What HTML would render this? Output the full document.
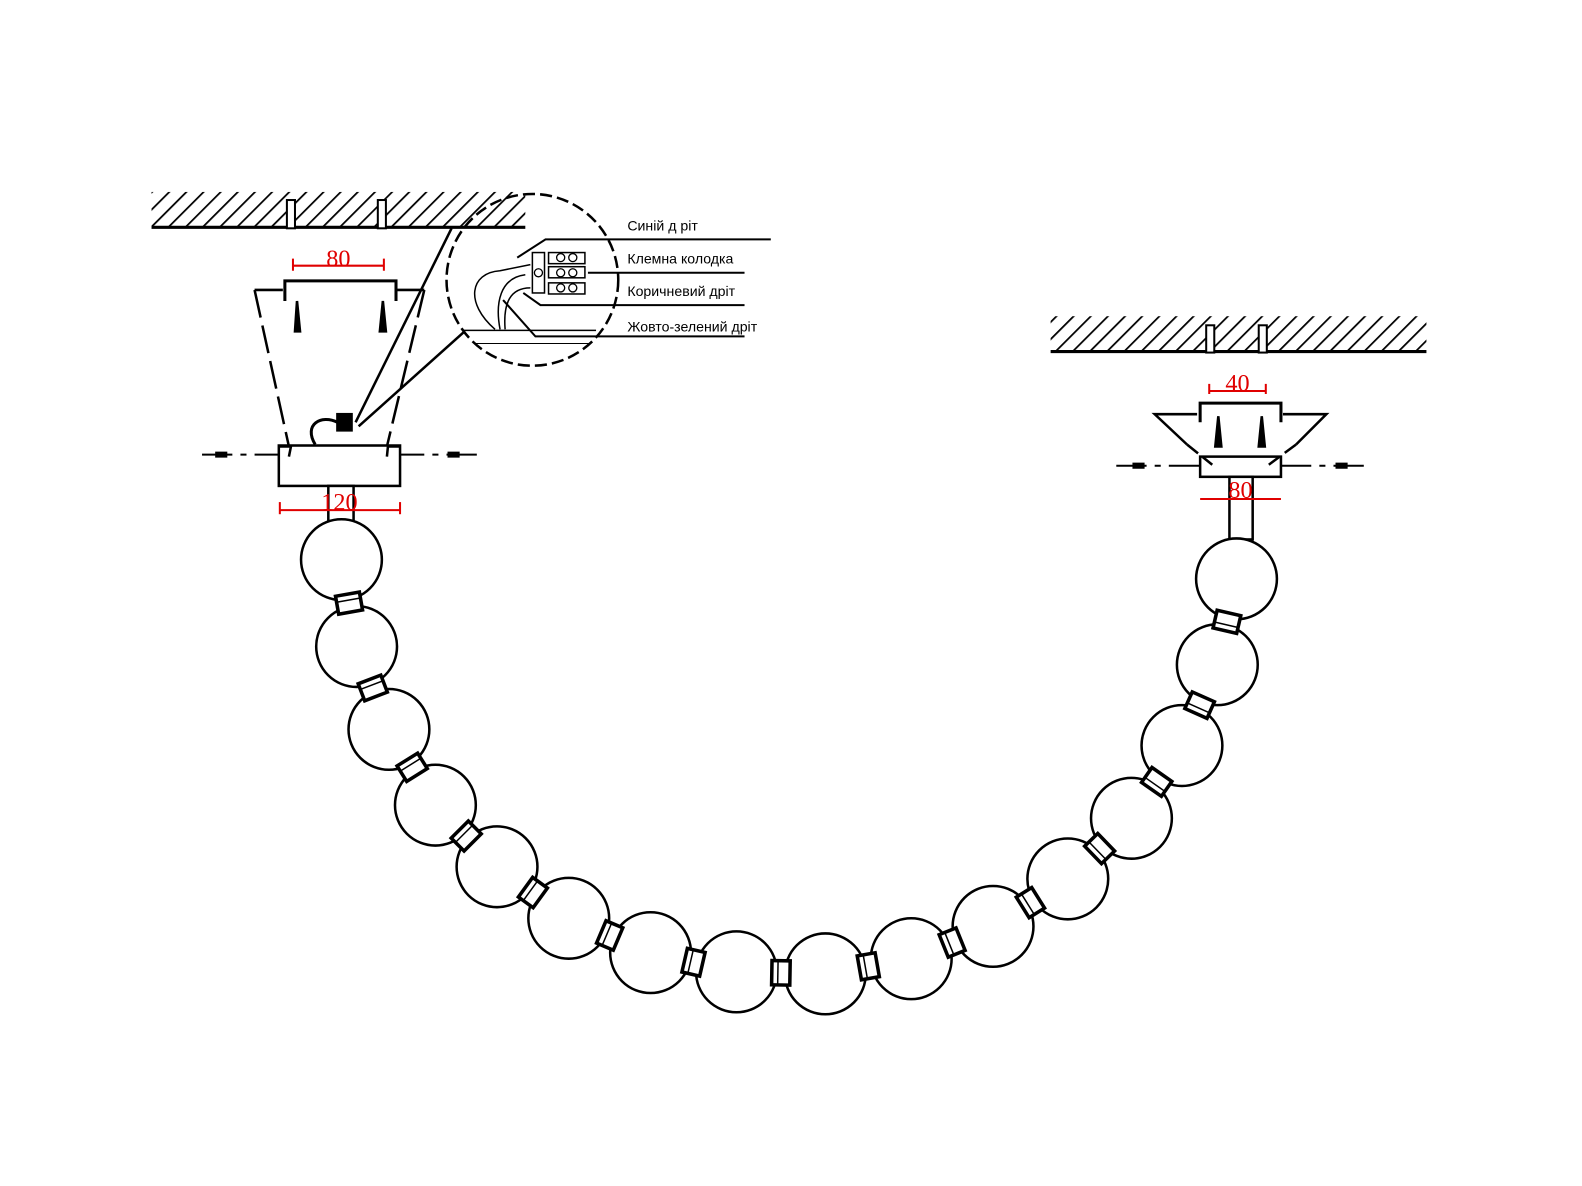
<!DOCTYPE html>
<html><head><meta charset="utf-8"><style>html,body{margin:0;padding:0;background:#fff}svg{display:block}</style></head><body>
<svg width="1582" height="1186" viewBox="0 0 1566 1174" xmlns="http://www.w3.org/2000/svg" font-family="Liberation Sans, sans-serif">
<defs>
<pattern id="h" width="12" height="12" patternUnits="userSpaceOnUse" patternTransform="rotate(45)"><line x1="0" y1="0" x2="0" y2="12" stroke="#000" stroke-width="3.5"/></pattern>
</defs>
<g fill="none" stroke="#000" stroke-width="2.5">
<rect x="150" y="190" width="370" height="34" fill="url(#h)" stroke="none"/>
<line x1="150" y1="225" x2="520" y2="225" stroke-width="3"/>
<rect x="284" y="198" width="8" height="28" fill="#fff" stroke-width="2"/>
<rect x="374" y="198" width="8" height="28" fill="#fff" stroke-width="2"/>
<polyline points="280,287 252,287"/>
<polyline points="392,287 420,287"/>
<line x1="252" y1="287" x2="286" y2="442" stroke-dasharray="28,8"/>
<line x1="420" y1="287" x2="383" y2="442" stroke-dasharray="28,8"/>
<polyline points="282,298 282,278 392,278 392,298" stroke-width="3"/>
<rect x="276" y="441" width="120" height="40"/>
<polyline points="276,442 288,442 286,452"/><polyline points="396,442 384,442 383,452"/>
<line x1="200" y1="450" x2="276" y2="450" stroke-dasharray="30,8,6,8" stroke-width="2"/>
<line x1="472" y1="450" x2="396" y2="450" stroke-dasharray="30,8,6,8" stroke-width="2"/>
<rect x="325" y="481" width="25" height="38" fill="#fff"/>
<path d="M292,328 L294,298 L297,328 Z" fill="#000"/>
<path d="M376,328 L379,298 L382,328 Z" fill="#000"/>
<path d="M213,447 h12 v6 h-12z M443,447 h12 v6 h-12z" fill="#000" stroke="none"/>
<rect x="334" y="410" width="14" height="16" fill="#000"/>
<path d="M334,418 C318,410 300,420 312,440" stroke-width="3"/>
<line x1="352" y1="418" x2="447" y2="226"/>
<line x1="355" y1="422" x2="460" y2="328"/>
<circle cx="527" cy="277" r="85" stroke-dasharray="12,5" fill="none"/>
<line x1="458" y1="327" x2="590" y2="327" stroke-width="1.5"/>
<line x1="470" y1="340" x2="585" y2="340" stroke-width="1"/>
<rect x="527" y="250" width="12" height="40" stroke-width="1.5"/>
<rect x="543" y="250" width="36" height="11" stroke-width="1.5"/>
<rect x="543" y="264" width="36" height="11" stroke-width="1.5"/>
<rect x="543" y="280" width="36" height="11" stroke-width="1.5"/>
<g stroke-width="1.3"><circle cx="555" cy="255" r="4"/><circle cx="567" cy="255" r="4"/><circle cx="555" cy="270" r="4"/><circle cx="567" cy="270" r="4"/><circle cx="555" cy="285" r="4"/><circle cx="567" cy="285" r="4"/><circle cx="533" cy="270" r="4"/></g>
<path d="M490,326 C460,300 465,270 495,268 L525,262 M495,326 C490,300 495,275 520,272 M500,326 C498,300 505,285 525,285" stroke-width="1.5"/>
<polyline points="763,237 540,237 512,255" stroke-width="2"/>
<line x1="737" y1="270" x2="582" y2="270" stroke-width="2"/>
<polyline points="737,302 535,302 518,290" stroke-width="2"/>
<polyline points="737,333 530,333 498,297" stroke-width="2"/>
<rect x="1040" y="313" width="372" height="34" fill="url(#h)" stroke="none"/>
<line x1="1040" y1="348" x2="1412" y2="348" stroke-width="3"/>
<rect x="1194" y="322" width="8" height="27" fill="#fff" stroke-width="2"/>
<rect x="1246" y="322" width="8" height="27" fill="#fff" stroke-width="2"/>
<polyline points="1185,410 1143,410 1175,440"/>
<polyline points="1270,410 1313,410 1283,440"/>
<line x1="1175" y1="440" x2="1200" y2="460" stroke-dasharray="14,6"/>
<line x1="1283" y1="440" x2="1256" y2="460" stroke-dasharray="14,6"/>
<polyline points="1188,418 1188,399 1268,399 1268,418" stroke-width="3"/>
<rect x="1188" y="452" width="80" height="20"/>
<line x1="1105" y1="461" x2="1188" y2="461" stroke-dasharray="30,8,6,8" stroke-width="2"/>
<line x1="1350" y1="461" x2="1268" y2="461" stroke-dasharray="30,8,6,8" stroke-width="2"/>
<path d="M1121,458 h12 v6 h-12z M1322,458 h12 v6 h-12z" fill="#000" stroke="none"/>
<path d="M1203,442 L1206,412 L1209,442 Z" fill="#000"/>
<path d="M1246,442 L1249,412 L1252,442 Z" fill="#000"/>
<rect x="1217" y="472" width="23" height="62" fill="#fff"/>
<g fill="#fff">
<circle cx="338" cy="554" r="40"/><circle cx="353" cy="640" r="40"/><circle cx="385" cy="722" r="40"/><circle cx="431" cy="797" r="40"/><circle cx="492" cy="858" r="40"/><circle cx="563" cy="909" r="40"/><circle cx="644" cy="943" r="40"/><circle cx="729" cy="962" r="40"/><circle cx="817" cy="964" r="40"/><circle cx="902" cy="949" r="40"/><circle cx="983" cy="917" r="40"/><circle cx="1057" cy="870" r="40"/><circle cx="1120" cy="810" r="40"/><circle cx="1170" cy="738" r="40"/><circle cx="1205" cy="658" r="40"/><circle cx="1224" cy="573" r="40"/>
</g>
<g fill="#fff" stroke-width="3.5">
<g transform="translate(345.5,597) rotate(80)"><rect x="-9" y="-12" width="18" height="24"/><line x1="-3" y1="-12" x2="-3" y2="12" stroke-width="1.5"/></g>
<g transform="translate(369,681) rotate(69)"><rect x="-9" y="-12" width="18" height="24"/><line x1="-3" y1="-12" x2="-3" y2="12" stroke-width="1.5"/></g>
<g transform="translate(408,759.5) rotate(58)"><rect x="-9" y="-12" width="18" height="24"/><line x1="-3" y1="-12" x2="-3" y2="12" stroke-width="1.5"/></g>
<g transform="translate(461.5,827.5) rotate(45)"><rect x="-9" y="-12" width="18" height="24"/><line x1="-3" y1="-12" x2="-3" y2="12" stroke-width="1.5"/></g>
<g transform="translate(527.5,883.5) rotate(36)"><rect x="-9" y="-12" width="18" height="24"/><line x1="-3" y1="-12" x2="-3" y2="12" stroke-width="1.5"/></g>
<g transform="translate(603.5,926) rotate(23)"><rect x="-9" y="-12" width="18" height="24"/><line x1="-3" y1="-12" x2="-3" y2="12" stroke-width="1.5"/></g>
<g transform="translate(686.5,952.5) rotate(13)"><rect x="-9" y="-12" width="18" height="24"/><line x1="-3" y1="-12" x2="-3" y2="12" stroke-width="1.5"/></g>
<g transform="translate(773,963) rotate(1)"><rect x="-9" y="-12" width="18" height="24"/><line x1="-3" y1="-12" x2="-3" y2="12" stroke-width="1.5"/></g>
<g transform="translate(859.5,956.5) rotate(-10)"><rect x="-9" y="-12" width="18" height="24"/><line x1="-3" y1="-12" x2="-3" y2="12" stroke-width="1.5"/></g>
<g transform="translate(942.5,933) rotate(-22)"><rect x="-9" y="-12" width="18" height="24"/><line x1="-3" y1="-12" x2="-3" y2="12" stroke-width="1.5"/></g>
<g transform="translate(1020,893.5) rotate(-32)"><rect x="-9" y="-12" width="18" height="24"/><line x1="-3" y1="-12" x2="-3" y2="12" stroke-width="1.5"/></g>
<g transform="translate(1088.5,840) rotate(-44)"><rect x="-9" y="-12" width="18" height="24"/><line x1="-3" y1="-12" x2="-3" y2="12" stroke-width="1.5"/></g>
<g transform="translate(1145,774) rotate(-55)"><rect x="-9" y="-12" width="18" height="24"/><line x1="-3" y1="-12" x2="-3" y2="12" stroke-width="1.5"/></g>
<g transform="translate(1187.5,698) rotate(-66)"><rect x="-9" y="-12" width="18" height="24"/><line x1="-3" y1="-12" x2="-3" y2="12" stroke-width="1.5"/></g>
<g transform="translate(1214.5,615.5) rotate(-77)"><rect x="-9" y="-12" width="18" height="24"/><line x1="-3" y1="-12" x2="-3" y2="12" stroke-width="1.5"/></g>
</g>
<g stroke="#e00000" stroke-width="2">
<line x1="290" y1="263" x2="380" y2="263"/><line x1="290" y1="256" x2="290" y2="268"/><line x1="380" y1="256" x2="380" y2="268"/>
<line x1="277" y1="505" x2="396" y2="505"/><line x1="277" y1="497" x2="277" y2="509"/><line x1="396" y1="497" x2="396" y2="509"/>
<line x1="1197" y1="387" x2="1253" y2="387"/><line x1="1197" y1="380" x2="1197" y2="390"/><line x1="1253" y1="380" x2="1253" y2="390"/>
<line x1="1188" y1="494" x2="1268" y2="494"/>
</g>
</g>
<g fill="#e00000" font-family="Liberation Serif, serif" font-size="24" text-anchor="middle">
<text x="335" y="264">80</text><text x="336" y="505">120</text><text x="1225" y="387">40</text><text x="1228" y="493">80</text>
</g>
<g font-size="14" fill="#000">
<text x="621" y="228">Синій д ріт</text>
<text x="621" y="261">Клемна колодка</text>
<text x="621" y="293">Коричневий дріт</text>
<text x="621" y="328">Жовто-зелений дріт</text>
</g>
</svg>
</body></html>
